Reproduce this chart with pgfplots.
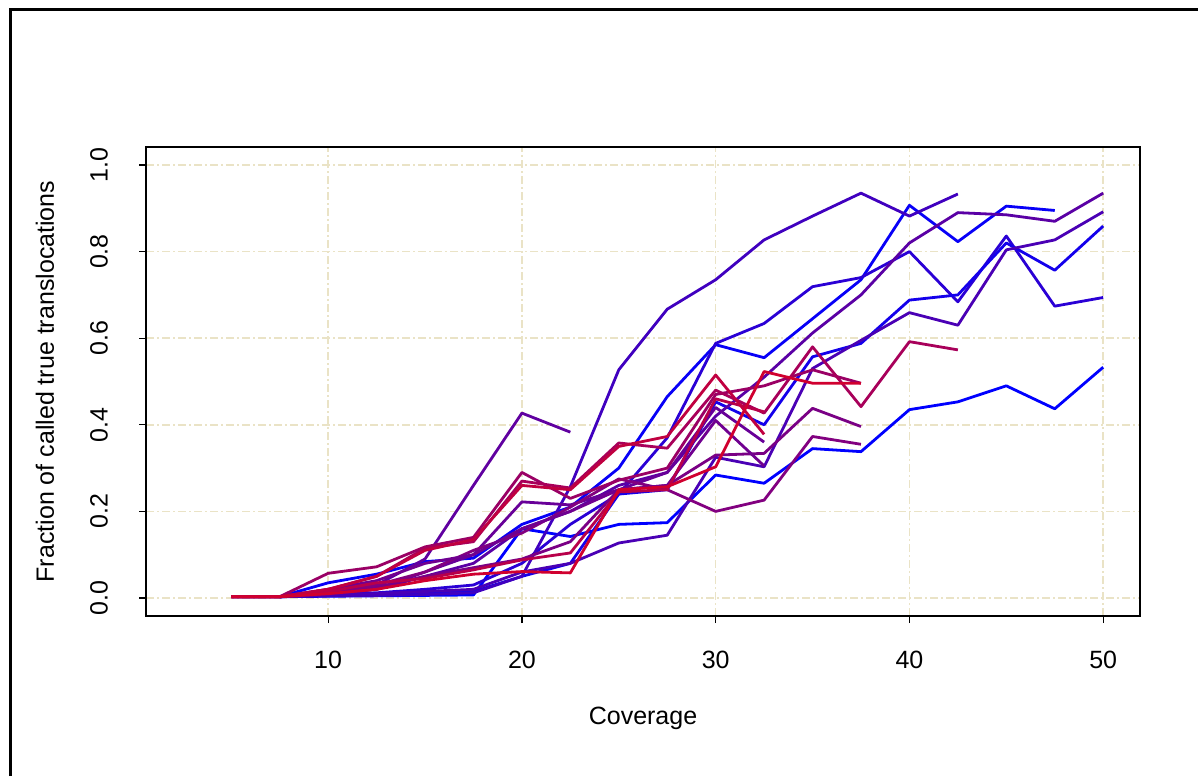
\documentclass[border=0pt]{standalone}
\usepackage{fontspec}
\setmainfont{Liberation Sans}
\usepackage{pgfplots}
\pgfplotsset{compat=1.18}
\definecolor{gridc}{HTML}{EAE3C6}
\definecolor{c1}{HTML}{0000FF}
\definecolor{c2}{HTML}{0800F7}
\definecolor{c3}{HTML}{2A00D5}
\definecolor{c4}{HTML}{1400EB}
\definecolor{c5}{HTML}{4000BF}
\definecolor{c6}{HTML}{4A00B5}
\definecolor{c7}{HTML}{5A00A5}
\definecolor{c8}{HTML}{6000A0}
\definecolor{c9}{HTML}{680098}
\definecolor{c10}{HTML}{7A0085}
\definecolor{c11}{HTML}{820080}
\definecolor{c12}{HTML}{9A0065}
\definecolor{c13}{HTML}{A8005A}
\definecolor{c14}{HTML}{C00040}
\definecolor{c15}{HTML}{D0002F}
\definecolor{c16}{HTML}{B8004A}
\definecolor{c17}{HTML}{700090}
\begin{document}
\fontsize{12.5}{15}\selectfont
\begin{tikzpicture}
\useasboundingbox (0,0) rectangle (599pt,388pt);
\draw[line width=1.5pt] (5pt,0) -- (5pt,383pt) -- (599pt,383pt);
\begin{axis}[
  at={(73pt,80pt)}, anchor=south west,
  scale only axis, width=497pt, height=234.5pt,
  xmin=0.6, xmax=51.9, ymin=-0.0416, ymax=1.0416,
  xtick={10,20,30,40,50}, ytick={0,0.2,0.4,0.6,0.8,1.0},
  tick pos=left, tick align=outside,
  major tick length=3.5pt,
  every tick/.style={black, line width=0.6pt},
  axis line style={line width=0.8pt},
  grid=major,
  major grid style={gridc, line width=0.8pt, dash pattern=on 4pt off 1.5pt on 1pt off 1.5pt},
  yticklabel style={anchor=center, xshift=-20pt, rotate=90, /pgf/number format/.cd, fixed, fixed zerofill, precision=1},
  /pgf/number format/assume math mode=true,
  xticklabel style={anchor=center, yshift=-18.5pt},
  xlabel={Coverage},
  ylabel={Fraction of called true translocations},
  xlabel style={at={(axis description cs:0.5,-0.2175)}, anchor=center},
  ylabel style={at={(axis description cs:-0.1016,0.5)}, anchor=center},
  every axis plot/.append style={line width=1.4pt, no markers, line join=round},
]
% B1
\addplot[c1] coordinates {(7.5,0.003)(10,0.004)(12.5,0.005)(15,0.006)(17.5,0.007)(20,0.16)(22.5,0.142)(25,0.17)(27.5,0.174)(30,0.284)(32.5,0.265)(35,0.345)(37.5,0.338)(40,0.435)(42.5,0.453)(45,0.49)(47.5,0.437)(50,0.533)};
% B2
\addplot[c2] coordinates {(7.5,0.003)(10,0.035)(12.5,0.055)(15,0.084)(17.5,0.092)(20,0.17)(22.5,0.21)(25,0.30)(27.5,0.465)(30,0.585)(32.5,0.555)(35,0.645)(37.5,0.735)(40,0.907)(42.5,0.823)(45,0.905)(47.5,0.895)};
% B3
\addplot[c3] coordinates {(7.5,0.003)(10,0.008)(12.5,0.012)(15,0.02)(17.5,0.03)(20,0.08)(22.5,0.17)(25,0.24)(27.5,0.37)(30,0.588)(32.5,0.634)(35,0.719)(37.5,0.74)(40,0.80)(42.5,0.684)(45,0.836)(47.5,0.674)(50,0.694)};
% Bx
\addplot[c4] coordinates {(7.5,0.003)(10,0.005)(12.5,0.008)(15,0.012)(17.5,0.015)(20,0.05)(22.5,0.08)(25,0.24)(27.5,0.25)(30,0.453)(32.5,0.40)(35,0.557)(37.5,0.588)(40,0.688)(42.5,0.70)(45,0.82)(47.5,0.757)(50,0.859)};
% S1
\addplot[c5] coordinates {(7.5,0.003)(10,0.005)(12.5,0.006)(15,0.008)(17.5,0.012)(20,0.05)(22.5,0.257)(25,0.527)(27.5,0.667)(30,0.735)(32.5,0.827)(35,0.882)(37.5,0.935)(40,0.882)(42.5,0.933)};
% P1
\addplot[c6] coordinates {(7.5,0.003)(10,0.006)(12.5,0.01)(15,0.015)(17.5,0.02)(20,0.06)(22.5,0.08)(25,0.127)(27.5,0.145)(30,0.325)(32.5,0.303)(35,0.53)(37.5,0.595)(40,0.659)(42.5,0.63)(45,0.804)(47.5,0.827)(50,0.892)};
% A
\addplot[c7] coordinates {(5,0.003)(7.5,0.003)(10,0.008)(12.5,0.02)(15,0.05)(17.5,0.08)(20,0.16)(22.5,0.20)(25,0.26)(27.5,0.29)(30,0.42)(32.5,0.51)(35,0.612)(37.5,0.70)(40,0.82)(42.5,0.89)(45,0.885)(47.5,0.87)(50,0.935)};
% P22
\addplot[c8] coordinates {(5,0.003)(7.5,0.003)(10,0.01)(12.5,0.03)(15,0.09)(17.5,0.26)(20,0.427)(22.5,0.383)};
% Pc
\addplot[c9] coordinates {(5,0.003)(7.5,0.003)(10,0.01)(12.5,0.02)(15,0.06)(17.5,0.10)(20,0.222)(22.5,0.215)(25,0.25)(27.5,0.29)(30,0.44)(32.5,0.36)};
% Pa
\addplot[c10] coordinates {(5,0.003)(7.5,0.003)(10,0.01)(12.5,0.025)(15,0.05)(17.5,0.07)(20,0.09)(22.5,0.13)(25,0.25)(27.5,0.26)(30,0.33)(32.5,0.334)(35,0.438)(37.5,0.396)};
% Pb
\addplot[c11] coordinates {(5,0.003)(7.5,0.003)(10,0.012)(12.5,0.03)(15,0.06)(17.5,0.11)(20,0.15)(22.5,0.21)(25,0.275)(27.5,0.25)(30,0.20)(32.5,0.226)(35,0.373)(37.5,0.355)};
% Pd
\addplot[c17] coordinates {(7.5,0.003)(10,0.02)(12.5,0.04)(15,0.08)(17.5,0.10)(20,0.16)(22.5,0.20)(25,0.25)(27.5,0.26)(30,0.41)(32.5,0.305)};
% R4
\addplot[c12] coordinates {(5,0.003)(7.5,0.003)(10,0.057)(12.5,0.072)(15,0.118)(17.5,0.14)(20,0.29)(22.5,0.23)(25,0.272)(27.5,0.30)(30,0.47)(32.5,0.49)(35,0.527)(37.5,0.496)};
% R2
\addplot[c13] coordinates {(5,0.003)(7.5,0.003)(10,0.02)(12.5,0.05)(15,0.115)(17.5,0.13)(20,0.27)(22.5,0.254)(25,0.358)(27.5,0.346)(30,0.48)(32.5,0.427)(35,0.58)(37.5,0.442)(40,0.592)(42.5,0.573)};
% R5
\addplot[c16] coordinates {(5,0.003)(7.5,0.003)(10,0.015)(12.5,0.035)(15,0.045)(17.5,0.065)(20,0.088)(22.5,0.104)(25,0.245)(27.5,0.25)(30,0.46)(32.5,0.43)};
% R3
\addplot[c14] coordinates {(5,0.003)(7.5,0.003)(10,0.02)(12.5,0.05)(15,0.11)(17.5,0.135)(20,0.26)(22.5,0.25)(25,0.35)(27.5,0.373)(30,0.515)(32.5,0.378)};
% R1
\addplot[c15] coordinates {(5,0.003)(7.5,0.003)(10,0.01)(12.5,0.02)(15,0.04)(17.5,0.055)(20,0.061)(22.5,0.058)(25,0.25)(27.5,0.257)(30,0.303)(32.5,0.523)(35,0.496)(37.5,0.496)};
\end{axis}
\end{tikzpicture}
\end{document}
